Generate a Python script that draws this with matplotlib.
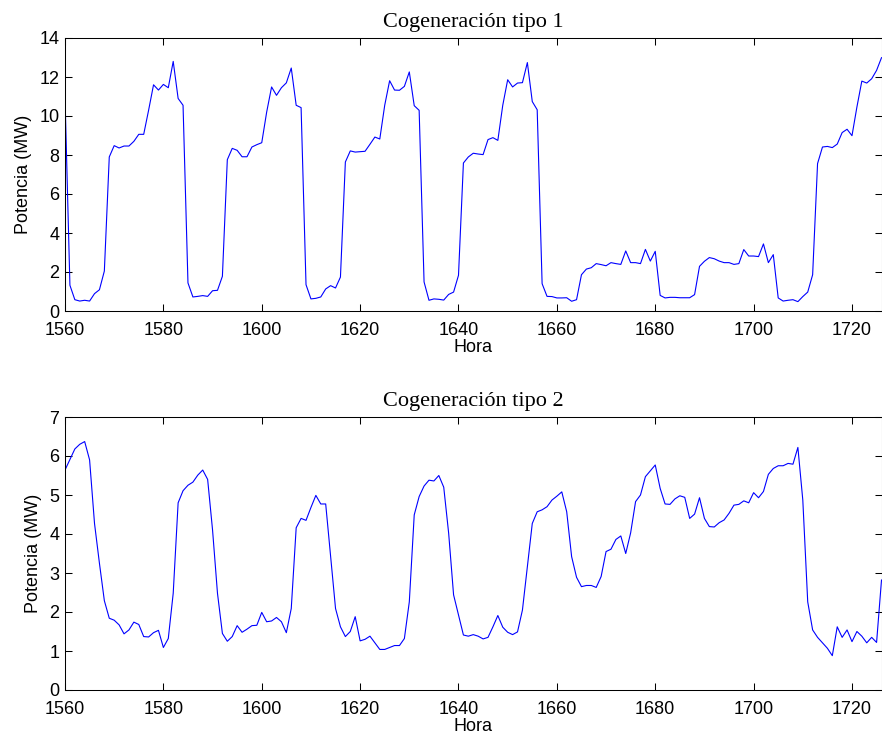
import numpy as np
import matplotlib
matplotlib.use("Agg")
import matplotlib.pyplot as plt

# hours shown on both panels
hours = np.arange(1560, 1727)

# Cogeneracion tipo 1 (MW)
tipo1 = [
    11.0, 1.32, 0.58, 0.51, 0.55, 0.51, 0.89, 1.09, 2.05, 7.9,
    8.48, 8.36, 8.46, 8.46, 8.7, 9.06, 9.06, 10.3, 11.6, 11.33,
    11.62, 11.45, 12.8, 10.9, 10.55, 1.44, 0.72, 0.75, 0.79, 0.75,
    1.04, 1.06, 1.78, 7.76, 8.34, 8.24, 7.91, 7.91, 8.41, 8.53,
    8.63, 10.2, 11.49, 11.06, 11.45, 11.7, 12.46, 10.55, 10.43, 1.35,
    0.62, 0.65, 0.72, 1.13, 1.3, 1.18, 1.74, 7.64, 8.21, 8.15,
    8.17, 8.19, 8.55, 8.92, 8.82, 10.55, 11.81, 11.33, 11.32, 11.52,
    12.26, 10.53, 10.29, 1.49, 0.55, 0.62, 0.6, 0.56, 0.85, 0.97,
    1.83, 7.59, 7.9, 8.09, 8.05, 8.02, 8.79, 8.89, 8.75, 10.55,
    11.86, 11.49, 11.69, 11.71, 12.74, 10.74, 10.32, 1.4, 0.75, 0.74,
    0.67, 0.67, 0.68, 0.5, 0.58, 1.86, 2.15, 2.22, 2.43, 2.38,
    2.32, 2.48, 2.43, 2.39, 3.08, 2.48, 2.48, 2.43, 3.16, 2.56,
    3.06, 0.8, 0.67, 0.7, 0.7, 0.68, 0.68, 0.68, 0.84, 2.29,
    2.55, 2.74, 2.68, 2.56, 2.48, 2.48, 2.39, 2.43, 3.15, 2.82,
    2.82, 2.79, 3.44, 2.48, 2.89, 0.67, 0.51, 0.55, 0.58, 0.48,
    0.74, 0.97, 1.86, 7.56, 8.41, 8.44, 8.38, 8.56, 9.15, 9.32,
    8.99, 10.46, 11.79, 11.69, 11.91, 12.34, 12.99,
]

# Cogeneracion tipo 2 (MW)
tipo2 = [
    5.64, 5.91, 6.18, 6.3, 6.37, 5.9, 4.27, 3.25, 2.29, 1.84,
    1.79, 1.67, 1.44, 1.54, 1.74, 1.68, 1.37, 1.36, 1.47, 1.53,
    1.09, 1.32, 2.48, 4.8, 5.11, 5.25, 5.33, 5.51, 5.64, 5.4,
    4.1, 2.48, 1.45, 1.25, 1.37, 1.65, 1.48, 1.56, 1.65, 1.66,
    1.99, 1.75, 1.77, 1.86, 1.75, 1.47, 2.09, 4.16, 4.4, 4.35,
    4.68, 4.99, 4.77, 4.77, 3.42, 2.09, 1.62, 1.37, 1.5, 1.88,
    1.26, 1.3, 1.38, 1.21, 1.04, 1.04, 1.09, 1.14, 1.14, 1.32,
    2.26, 4.49, 4.96, 5.23, 5.38, 5.36, 5.5, 5.2, 4.02, 2.44,
    1.92, 1.41, 1.38, 1.42, 1.38, 1.31, 1.35, 1.62, 1.91, 1.61,
    1.48, 1.42, 1.49, 2.05, 3.16, 4.27, 4.57, 4.62, 4.7, 4.87,
    4.97, 5.08, 4.57, 3.42, 2.89, 2.65, 2.68, 2.68, 2.63, 2.91,
    3.55, 3.61, 3.86, 3.95, 3.5, 4.03, 4.83, 5.0, 5.47, 5.62,
    5.77, 5.17, 4.77, 4.76, 4.9, 4.98, 4.94, 4.4, 4.51, 4.93,
    4.4, 4.19, 4.18, 4.29, 4.36, 4.53, 4.74, 4.76, 4.85, 4.8,
    5.06, 4.93, 5.09, 5.53, 5.68, 5.75, 5.75, 5.81, 5.79, 6.22,
    4.87, 2.26, 1.54, 1.35, 1.21, 1.07, 0.88, 1.62, 1.35, 1.54,
    1.24, 1.5, 1.38, 1.21, 1.35, 1.22, 2.82,
]

titles = ["Cogeneración tipo 1", "Cogeneración tipo 2"]
yticks = [np.arange(0, 15, 2), np.arange(0, 8, 1)]
ylims = [(0, 14), (0, 7)]

plt.rcParams['font.family'] = ['Liberation Sans', 'DejaVu Sans']

fig = plt.figure(figsize=(8.82, 7.38), dpi=100)
ax1 = fig.add_axes([65/882, 1 - 311/738, 816.5/882, 273/738])
ax2 = fig.add_axes([65/882, 1 - 690/738, 816.5/882, 273/738])

for ax, y, title, yt, yl in zip([ax1, ax2], [tipo1, tipo2], titles, yticks, ylims):
    ax.plot(hours, y, color='#0000ff', lw=0.8)
    ax.set_xlim(1560, 1726)
    ax.set_ylim(*yl)
    ax.set_xticks(np.arange(1560, 1727, 20))
    ax.set_yticks(yt)
    ax.tick_params(direction='in', length=5, width=0.75, labelsize=13,
                   top=True, right=True)
    ax.tick_params(axis='x', pad=8)
    ax.tick_params(axis='y', pad=4)
    for s in ax.spines.values():
        s.set_linewidth(0.75)
    ax.set_title(title, fontsize=16, family=['Liberation Serif'], pad=8)
    ax.set_xlabel('Hora', fontsize=13, labelpad=0)
    ax.set_ylabel('Potencia (MW)', fontsize=13, labelpad=5)

fig.savefig('out.png', dpi=100)
